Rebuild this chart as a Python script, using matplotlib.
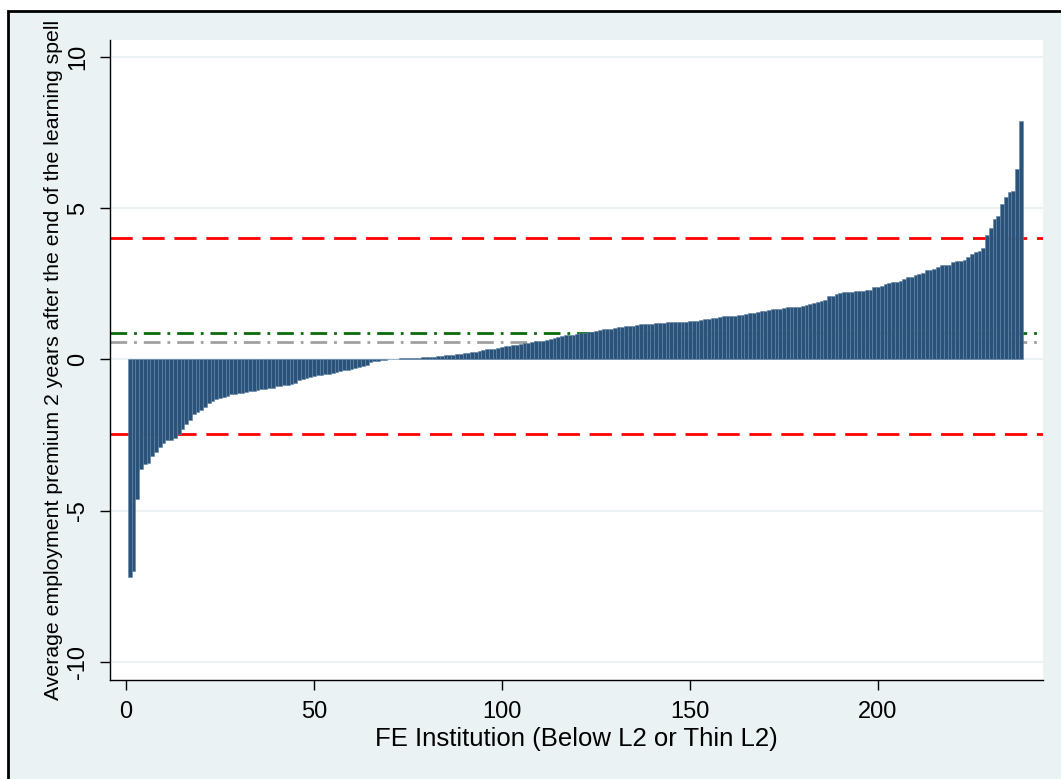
import matplotlib
matplotlib.use('Agg')
import matplotlib.pyplot as plt
import matplotlib.patches as patches
import numpy as np

plt.rcParams['font.family'] = ['Liberation Sans Narrow', 'Liberation Sans', 'DejaVu Sans']
plt.rcParams['axes.unicode_minus'] = False

#sorted employment premium per institution
premium = [
    -7.20, -6.99, -4.61, -3.62, -3.46, -3.43, -3.18, -3.07, -2.90, -2.77,
    -2.68, -2.66, -2.59, -2.46, -2.30, -2.13, -2.00, -1.80, -1.74, -1.67,
    -1.56, -1.45, -1.38, -1.30, -1.28, -1.25, -1.22, -1.16, -1.14, -1.12,
    -1.10, -1.08, -1.05, -1.03, -1.01, -0.99, -0.97, -0.96, -0.94, -0.88,
    -0.87, -0.85, -0.84, -0.80, -0.77, -0.68, -0.64, -0.60, -0.57, -0.55,
    -0.52, -0.51, -0.49, -0.48, -0.45, -0.42, -0.40, -0.36, -0.34, -0.31,
    -0.28, -0.25, -0.21, -0.18, -0.09, -0.06, -0.05, -0.03, -0.01, 0.01,
    0.02, 0.02, 0.03, 0.04, 0.04, 0.05, 0.06, 0.06, 0.07, 0.08,
    0.09, 0.09, 0.10, 0.11, 0.13, 0.14, 0.16, 0.18, 0.19, 0.20,
    0.22, 0.24, 0.25, 0.27, 0.31, 0.33, 0.34, 0.36, 0.39, 0.41,
    0.43, 0.45, 0.46, 0.47, 0.50, 0.53, 0.55, 0.57, 0.60, 0.61,
    0.62, 0.64, 0.68, 0.70, 0.75, 0.77, 0.80, 0.81, 0.82, 0.85,
    0.86, 0.87, 0.89, 0.92, 0.93, 0.98, 0.99, 1.00, 1.02, 1.04,
    1.06, 1.08, 1.09, 1.10, 1.11, 1.14, 1.16, 1.16, 1.18, 1.18,
    1.20, 1.21, 1.21, 1.22, 1.22, 1.23, 1.24, 1.24, 1.25, 1.26,
    1.27, 1.28, 1.31, 1.32, 1.35, 1.37, 1.38, 1.41, 1.42, 1.42,
    1.43, 1.44, 1.46, 1.48, 1.50, 1.53, 1.54, 1.58, 1.59, 1.61,
    1.64, 1.65, 1.66, 1.67, 1.69, 1.72, 1.73, 1.73, 1.74, 1.77,
    1.81, 1.82, 1.85, 1.90, 1.93, 1.96, 2.10, 2.11, 2.15, 2.20,
    2.22, 2.23, 2.23, 2.25, 2.26, 2.27, 2.28, 2.31, 2.38, 2.39,
    2.42, 2.50, 2.52, 2.55, 2.57, 2.60, 2.66, 2.72, 2.74, 2.80,
    2.82, 2.86, 2.94, 2.96, 2.99, 3.06, 3.11, 3.13, 3.13, 3.22,
    3.24, 3.24, 3.30, 3.39, 3.48, 3.55, 3.58, 3.69, 4.11, 4.33,
    4.64, 4.75, 5.15, 5.38, 5.54, 5.57, 6.28, 7.89,
]
institution = np.arange(1, len(premium) + 1)

#reference lines
upper_limit = 4.0
lower_limit = -2.47
mean_line = 0.88
median_line = 0.58

x_ticks = [0, 50, 100, 150, 200]
y_ticks = [-10, -5, 0, 5, 10]

bg = '#eaf2f3'

fig = plt.figure(figsize=(10.61, 7.79), dpi=100)
fig.patch.set_facecolor('white')
#stata style outer frame
frame = patches.Rectangle((8/1061, -0.05), 1.1, 1 - 11/779 + 0.05, transform=fig.transFigure,
                          facecolor=bg, edgecolor='black', linewidth=2, zorder=-10)
fig.patches.append(frame)

ax = fig.add_axes([110/1061, 1 - 680/779, (1043-110)/1061, (680-40)/779])
ax.set_facecolor('white')

#grid lines
for yt in y_ticks:
    ax.axhline(yt, color=bg, linewidth=1.5, zorder=0)

#reference lines (behind the bars)
ax.axhline(upper_limit, color='#ff0000', linewidth=2, dashes=(8, 3.5), zorder=1)
ax.axhline(lower_limit, color='#ff0000', linewidth=2, dashes=(8, 3.5), zorder=1)
ax.axhline(mean_line, color='#0a6b0a', linewidth=2, dashes=(6, 2.5, 1, 2.5), zorder=1)
ax.axhline(median_line, color='#a0a0a0', linewidth=2, dashes=(6, 2.5, 1, 2.5), zorder=1)

ax.bar(institution, premium, width=1.0, color='#2b5279', edgecolor='#5f84a8',
       linewidth=0.4, zorder=2)

ax.set_xlim(-4.26, 243.9)
ax.set_ylim(-10.6, 10.56)
ax.set_xticks(x_ticks)
ax.set_yticks(y_ticks)
ax.tick_params(axis='both', direction='out', length=7, width=1, labelsize=17, pad=8)
for lab in ax.get_yticklabels():
    lab.set_rotation(90)
    lab.set_va('center')

for s in ['top', 'right']:
    ax.spines[s].set_visible(False)
for s in ['left', 'bottom']:
    ax.spines[s].set_linewidth(1)

ax.set_xlabel('FE Institution (Below L2 or Thin L2)', fontsize=18.5, labelpad=3)
ax.set_ylabel('Average employment premium 2 years after the end of the learning spell',
              fontsize=15.3, labelpad=3)

fig.savefig('out.png', dpi=100, facecolor=fig.get_facecolor())
